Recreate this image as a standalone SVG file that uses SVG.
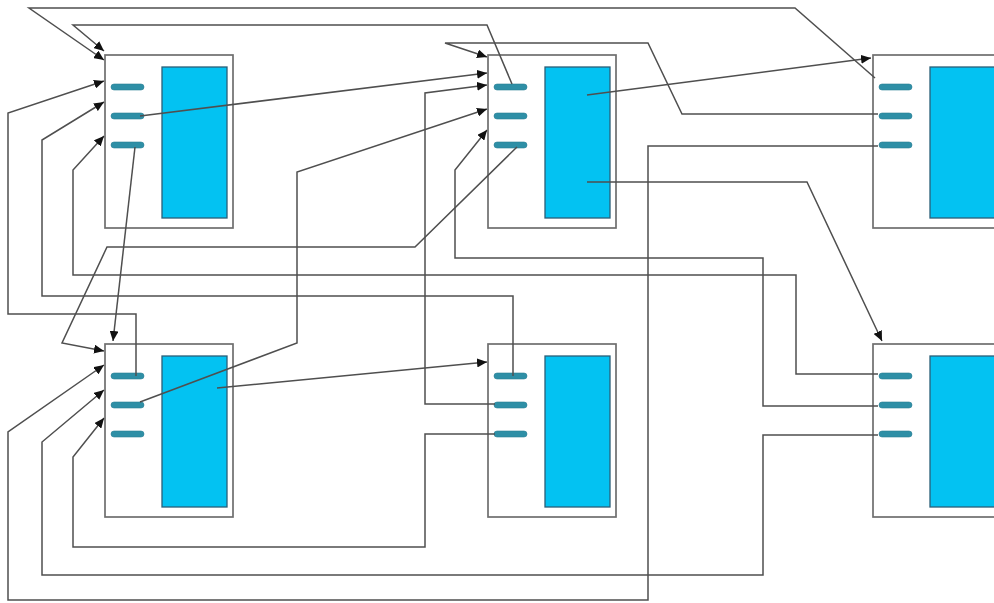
<svg xmlns="http://www.w3.org/2000/svg" width="994" height="603" viewBox="0 0 994 603">
<style>
.box{fill:#fff;stroke:#6e6e6e;stroke-width:1.7}
.core{fill:#03c2f2;stroke:#2a5f78;stroke-width:1.3}
.port{fill:#2e8fa6;stroke:#2a7f95;stroke-width:0.6}
.wire{fill:none;stroke:#4f4f4f;stroke-width:1.5;stroke-linejoin:miter}
</style>
<defs>
<marker id="arr" markerUnits="userSpaceOnUse" markerWidth="11" markerHeight="9" refX="10" refY="4.5" orient="auto">
<path d="M0,0 L10,4.5 L0,9 Z" fill="#111"/>
</marker>
<g id="unit">
<rect class="box" x="0" y="0" width="128" height="173"/>
<rect class="core" x="57" y="12" width="65" height="151"/>
<rect class="port" x="6" y="29" width="33" height="6" rx="3"/>
<rect class="port" x="6" y="58" width="33" height="6" rx="3"/>
<rect class="port" x="6" y="87" width="33" height="6" rx="3"/>
</g>
</defs>
<g id="nodes">
<g id="nodeA"><use href="#unit" x="105" y="55"/></g>
<g id="nodeB"><use href="#unit" x="488" y="55"/></g>
<g id="nodeC"><use href="#unit" x="873" y="55"/></g>
<g id="nodeD"><use href="#unit" x="105" y="344"/></g>
<g id="nodeE"><use href="#unit" x="488" y="344"/></g>
<g id="nodeF"><use href="#unit" x="873" y="344"/></g>
</g>
<g id="connectors" class="wire" marker-end="url(#arr)">
<path class="wire" d="M512,84 L487,25 L73,25 L104,51"/>
<path class="wire" d="M875,78 L795,8 L29,8 L104,60"/>
<path class="wire" d="M136,376 L136,314 L8,314 L8,113 L104,81"/>
<path class="wire" d="M513,376 L513,296 L42,296 L42,140 L104,102"/>
<path class="wire" d="M878,374 L796,374 L796,275 L73,275 L73,170 L104,136"/>
<path class="wire" d="M878,114 L682,114 L648,43 L445,43 L487,57"/>
<path class="wire" d="M140,116 L487,73"/>
<path class="wire" d="M495,404 L425,404 L425,93 L487,85"/>
<path class="wire" d="M140,402 L297,343 L297,172 L487,109"/>
<path class="wire" d="M878,406 L763,406 L763,258 L455,258 L455,170 L487,130"/>
<path class="wire" d="M135,147 L113,341"/>
<path class="wire" d="M517,147 L415,247 L107,247 L62,343 L104,351"/>
<path class="wire" d="M878,146 L648,146 L648,600 L8,600 L8,432 L104,365"/>
<path class="wire" d="M878,435 L763,435 L763,575 L42,575 L42,442 L104,390"/>
<path class="wire" d="M495,434 L425,434 L425,547 L73,547 L73,457 L104,418"/>
<path class="wire" d="M217,388 L487,362"/>
<path class="wire" d="M587,182 L807,182 L882,341"/>
<path class="wire" d="M587,95 L871,58"/>
</g>
</svg>
